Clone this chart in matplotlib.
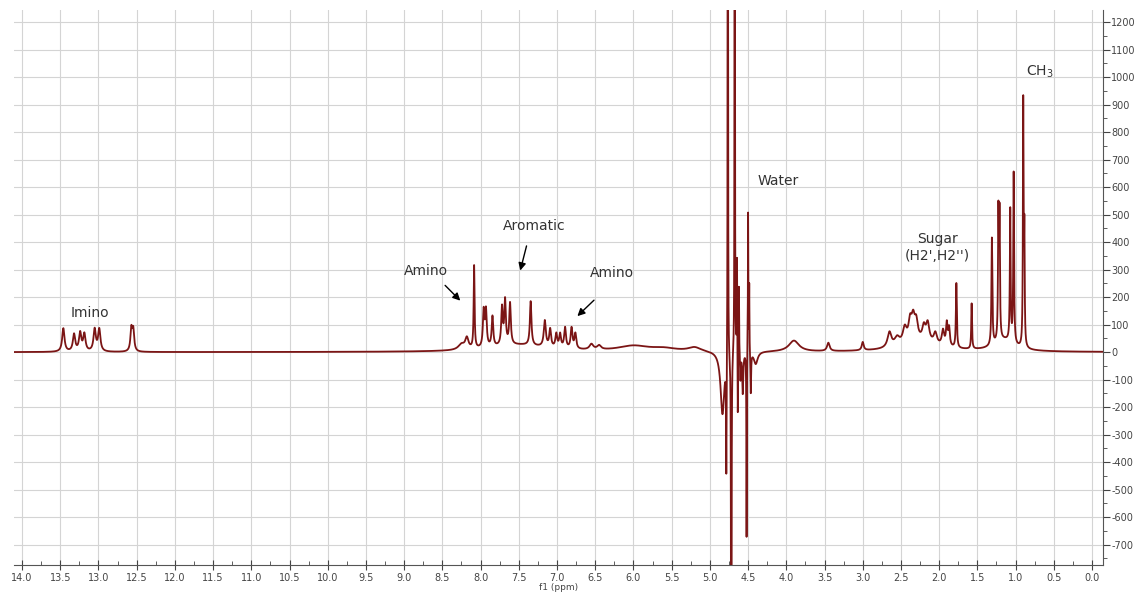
import matplotlib
matplotlib.use('Agg')
import matplotlib.pyplot as plt
import numpy as np
from matplotlib.ticker import MultipleLocator, FormatStrFormatter

plt.rcParams['axes.unicode_minus'] = False

# peak list: position (ppm), height, half width (ppm)
peak_ppm = [13.46, 13.32, 13.24, 13.185, 13.05, 12.99, 12.57, 12.545,
            8.25, 8.18, 8.085, 7.96, 7.93, 7.845, 7.72, 7.68, 7.615, 7.5, 7.345,
            7.16, 7.09, 7.01, 6.96, 6.895, 6.81, 6.76,
            6.55, 6.45, 6.0, 5.6, 5.2,
            4.835, 4.785, 4.765, 4.72, 4.675,
            4.645, 4.635, 4.62, 4.60, 4.57, 4.52, 4.50, 4.485, 4.465, 4.40,
            3.9, 3.45, 3.0, 2.65,
            2.55, 2.45, 2.38, 2.34, 2.30, 2.20, 2.15, 2.05, 1.95, 1.90, 1.87,
            2.25, 1.775, 1.575,
            1.31, 1.225, 1.21, 1.15, 1.07, 1.025, 0.90, 0.885]
peak_height = [85, 62, 66, 62, 80, 80, 80, 75,
               20, 40, 300, 130, 130, 110, 135, 160, 150, 25, 160,
               95, 65, 50, 50, 75, 75, 55,
               20, 15, 20, 10, 15,
               -230, -430, 30000, -30000, 30000,
               350, -260, 250, -100, -150, -680, 520, 250, -150, -45,
               40, 30, 30, 55,
               30, 55, 70, 75, 65, 50, 65, 40, 55, 80, 65,
               35, 235, 165,
               390, 450, 440, 40, 480, 620, 880, 400]
peak_width = [0.018, 0.018, 0.018, 0.018, 0.018, 0.018, 0.014, 0.014,
              0.05, 0.025, 0.007, 0.012, 0.012, 0.012, 0.012, 0.012, 0.012, 0.45, 0.012,
              0.016, 0.014, 0.014, 0.014, 0.014, 0.014, 0.014,
              0.03, 0.03, 0.25, 0.2, 0.1,
              0.03, 0.004, 0.0008, 0.0008, 0.0008,
              0.003, 0.003, 0.003, 0.005, 0.008, 0.003, 0.003, 0.003, 0.005, 0.03,
              0.08, 0.02, 0.015, 0.03,
              0.04, 0.03, 0.025, 0.025, 0.025, 0.025, 0.025, 0.025, 0.018, 0.012, 0.012,
              0.3, 0.007, 0.006,
              0.007, 0.006, 0.006, 0.15, 0.006, 0.006, 0.005, 0.005]

xticks = np.arange(0, 14.01, 0.5)
yticks = np.arange(-700, 1201, 100)

labels = ['Imino', 'Amino', 'Aromatic', 'Amino', 'Water', "Sugar\n(H2',H2'')", 'CH$_3$']
label_pos = [(13.11, 142), (8.71, 295), (7.30, 458), (6.28, 287), (4.11, 622), (2.02, 380), (0.68, 1018)]
arrows = [None, ((8.49, 250), (8.24, 180)), ((7.39, 396), (7.49, 287)), ((6.49, 196), (6.76, 124)),
          None, None, None]

ppm = np.linspace(14.1, -0.15, 30000)
signal = np.zeros_like(ppm)
for p, h, w in zip(peak_ppm, peak_height, peak_width):
    signal += h / (1 + ((ppm - p) / w) ** 2)

fig = plt.figure(figsize=(11.41, 5.98), dpi=100)
ax = fig.add_axes([0.0123, 0.0552, 0.9544, 0.928])

ax.plot(ppm, signal, color='#7b1515', lw=1.3)

ax.set_xlim(14.105, -0.144)
ax.set_ylim(-774, 1244)

ax.yaxis.tick_right()
ax.set_xticks(xticks)
ax.xaxis.set_major_formatter(FormatStrFormatter('%.1f'))
ax.xaxis.set_minor_locator(MultipleLocator(0.25))
ax.set_yticks(yticks)
ax.yaxis.set_minor_locator(MultipleLocator(50))
ax.tick_params(axis='x', which='major', direction='inout', length=7, labelsize=7, colors='#444444', pad=2)
ax.tick_params(axis='x', which='minor', direction='in', length=3, colors='#444444')
ax.tick_params(axis='y', which='major', direction='out', length=5, labelsize=7, colors='#444444', pad=1)
ax.tick_params(axis='y', which='minor', direction='out', length=3, colors='#444444')

ax.grid(True, which='major', color='#d4d4d4', lw=0.8)
ax.set_axisbelow(True)
for s in ['top', 'left']:
    ax.spines[s].set_visible(False)
ax.spines['bottom'].set_color('#555555')
ax.spines['right'].set_color('#555555')

ax.set_xlabel('f1 (ppm)', fontsize=6.5, color='#444444', labelpad=0)

for txt, (x, y), arr in zip(labels, label_pos, arrows):
    ax.text(x, y, txt, fontsize=10, color='#333333', ha='center', va='center', linespacing=1.3)
    if arr:
        ax.annotate('', xy=arr[1], xytext=arr[0],
                    arrowprops=dict(arrowstyle='-|>', color='black', lw=1, mutation_scale=11))

fig.savefig('out.png', dpi=100)
